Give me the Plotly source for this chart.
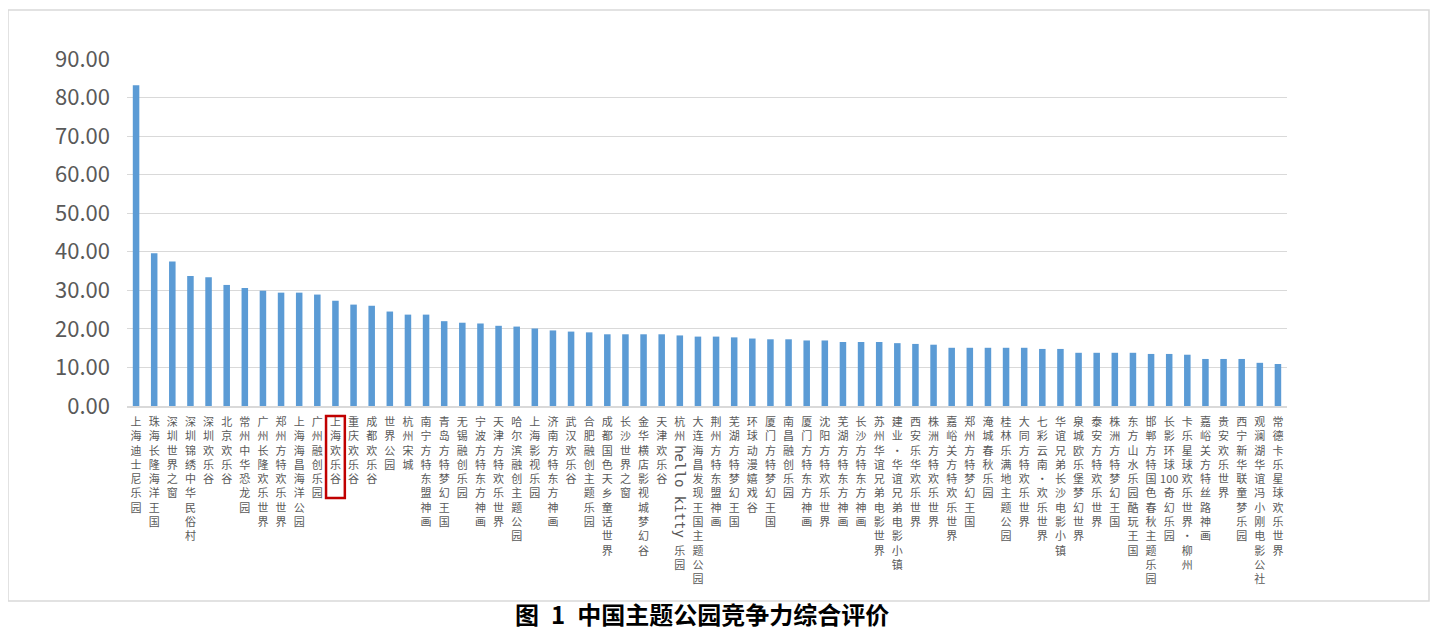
import plotly.graph_objects as go

# 中国主题公园竞争力综合评价 — 数据读自原图
parks = [
    "上海迪士尼乐园", "珠海长隆海洋王国", "深圳世界之窗", "深圳锦绣中华民俗村", "深圳欢乐谷",
    "北京欢乐谷", "常州中华恐龙园", "广州长隆欢乐世界", "郑州方特欢乐世界", "上海海昌海洋公园",
    "广州融创乐园", "上海欢乐谷", "重庆欢乐谷", "成都欢乐谷", "世界公园",
    "杭州宋城", "南宁方特东盟神画", "青岛方特梦幻王国", "无锡融创乐园", "宁波方特东方神画",
    "天津方特欢乐世界", "哈尔滨融创主题公园", "上海影视乐园", "济南方特东方神画", "武汉欢乐谷",
    "合肥融创主题乐园", "成都国色天乡童话世界", "长沙世界之窗", "金华横店影视城梦幻谷", "天津欢乐谷",
    "杭州hello kitty乐园", "大连海昌发现王国主题公园", "荆州方特东盟神画", "芜湖方特梦幻王国", "环球动漫嬉戏谷",
    "厦门方特梦幻王国", "南昌融创乐园", "厦门方特东方神画", "沈阳方特欢乐世界", "芜湖方特东方神画",
    "长沙方特东方神画", "苏州华谊兄弟电影世界", "建业·华谊兄弟电影小镇", "西安乐华欢乐世界", "株洲方特欢乐世界",
    "嘉峪关方特欢乐世界", "郑州方特梦幻王国", "淹城春秋乐园", "桂林乐满地主题公园", "大同方特欢乐世界",
    "七彩云南·欢乐世界", "华谊兄弟长沙电影小镇", "泉城欧乐堡梦幻世界", "泰安方特欢乐世界", "株洲方特梦幻王国",
    "东方山水乐园酷玩王国", "邯郸方特国色春秋主题乐园", "长影环球100奇幻乐园", "卡乐星球欢乐世界·柳州", "嘉峪关方特丝路神画",
    "贵安欢乐世界", "西宁新华联童梦乐园", "观澜湖华谊冯小刚电影公社", "常德卡乐星球欢乐世界",
]

scores = [
    83.2, 39.6, 37.5, 33.7, 33.4, 31.4, 30.6, 29.9, 29.4, 29.4,
    28.9, 27.3, 26.3, 26.0, 24.5, 23.7, 23.7, 22.0, 21.6, 21.4,
    20.8, 20.6, 20.1, 19.6, 19.3, 19.1, 18.6, 18.6, 18.6, 18.6,
    18.3, 18.0, 18.0, 17.8, 17.5, 17.3, 17.3, 17.0, 17.0, 16.6,
    16.6, 16.6, 16.3, 16.1, 15.9, 15.1, 15.1, 15.1, 15.1, 15.1,
    14.8, 14.8, 13.8, 13.8, 13.8, 13.8, 13.5, 13.5, 13.3, 12.2,
    12.2, 12.2, 11.2, 10.9,
]

y_ticks = [0, 10, 20, 30, 40, 50, 60, 70, 80, 90]
highlight = "上海欢乐谷"
latin_label = "杭州hello kitty乐园"   # 英文部分在原图中旋转竖排
latin_part = "hello kitty"


# 竖排标签：每个字一行（连续的英文/数字保持在一起）
def vertical(label):
    parts, buf = [], ""
    for ch in label:
        if ch.isascii() and ch != " ":
            buf += ch
            continue
        if buf:
            parts.append(buf)
            buf = ""
        if ch != " ":
            parts.append(ch)
    if buf:
        parts.append(buf)
    return "<br>".join(parts)


tick_text = []
for p in parks:
    if p == latin_label:
        head, tail = p.split(latin_part)
        # 给旋转的英文留出空行
        tick_text.append("<br>".join(list(head) + ["\u3000"] * 7 + list(tail)))
    else:
        tick_text.append(vertical(p))

# 页面有 8px 边距，图按 1430x623 绘制
W, H = 1430, 623
OFF = 8
L, R, T, B = 119, 151, 51, 225
pw, ph = W - L - R, H - T - B


def px_x(x):
    return (x - OFF - L) / pw


def px_y(y):
    return (H - B - (y - OFF)) / ph


n = len(parks)
k = parks.index(highlight)
j = parks.index(latin_label)

fig = go.Figure()
fig.add_trace(go.Bar(
    x=list(range(n)), y=scores,
    marker=dict(color="#5b9bd5", line=dict(width=0)),
    width=0.36,
    customdata=parks,
    hovertemplate="%{customdata}: %{y:.2f}<extra></extra>",
))

fig.update_layout(
    width=W, height=H,
    margin=dict(l=L, r=R, t=T, b=B),
    paper_bgcolor="white", plot_bgcolor="white",
    showlegend=False,
    font=dict(family="Noto Sans CJK SC, Noto Sans, sans-serif", color="#595959"),
    shapes=[
        # 外框
        dict(type="rect", xref="paper", yref="paper",
             x0=px_x(8), x1=px_x(1429), y0=px_y(601), y1=px_y(10),
             line=dict(color="#d9d9d9", width=1.5), layer="below"),
        # 上海欢乐谷 红框
        dict(type="rect", xref="paper", yref="paper",
             x0=(k + 0.5) / n - 0.0081, x1=(k + 0.5) / n + 0.0081,
             y0=px_y(498), y1=px_y(416),
             line=dict(color="#c00000", width=2.5)),
    ],
    annotations=[
        dict(text="<b>图\u20021\u2002中国主题公园竞争力综合评价</b>",
             xref="paper", yref="paper", x=px_x(702), y=px_y(613),
             xanchor="center", yanchor="middle", showarrow=False,
             borderpad=0,
             font=dict(size=24, color="black",
                       family="Noto Sans CJK SC, sans-serif")),
        dict(text=latin_part, textangle=90,
             xref="paper", yref="paper", x=(j + 0.5) / n, y=px_y(492),
             xanchor="center", yanchor="middle", showarrow=False,
             font=dict(size=14, color="#595959", family="DejaVu Sans Mono, monospace")),
    ],
)

fig.update_xaxes(
    range=[-0.5, n - 0.5],
    tickmode="array", tickvals=list(range(n)), ticktext=tick_text,
    tickangle=0, tickfont=dict(size=11, color="#595959"),
    showline=True, linecolor="#d9d9d9", linewidth=1.5,
    showgrid=False, ticks="", ticklabelstandoff=5,
    fixedrange=True,
)
fig.update_yaxes(
    range=[0, 90], tickmode="array", tickvals=y_ticks,
    tickformat=".2f", tickfont=dict(size=22, color="#595959"),
    showgrid=True, gridcolor="#d9d9d9", gridwidth=1.2,
    zeroline=False, showline=False, ticks="", ticklabelstandoff=16,
    fixedrange=True,
)

fig.write_html("out.html")
